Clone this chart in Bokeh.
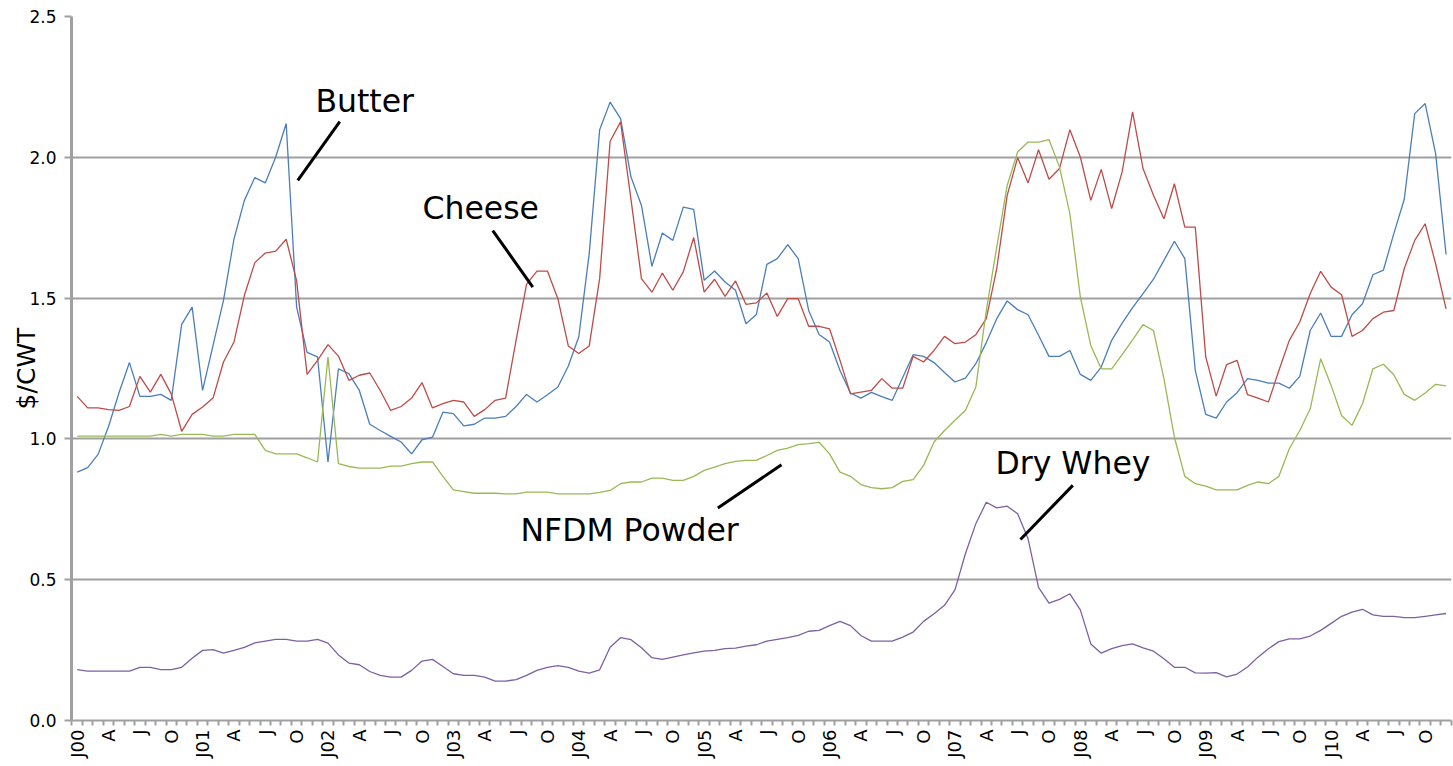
from math import pi
from bokeh.plotting import figure
from bokeh.models import Range1d, FixedTicker, Label, NumeralTickFormatter, ColumnDataSource
from bokeh.embed import file_html
from bokeh.resources import INLINE

# ---------------- data (monthly, Jan 2000 - Dec 2010) ----------------
tick_labels = ["J00", "A", "J", "O", "J01", "A", "J", "O", "J02", "A", "J", "O",
               "J03", "A", "J", "O", "J04", "A", "J", "O", "J05", "A", "J", "O",
               "J06", "A", "J", "O", "J07", "A", "J", "O", "J08", "A", "J", "O",
               "J09", "A", "J", "O", "J10", "A", "J", "O"]

butter = [0.882, 0.898, 0.945, 1.044, 1.164, 1.271, 1.151, 1.151, 1.158, 1.137, 1.407, 1.468,
          1.172, 1.332, 1.492, 1.709, 1.847, 1.928, 1.909, 2.001, 2.120, 1.468, 1.307, 1.291,
          0.918, 1.249, 1.232, 1.172, 1.052, 1.030, 1.009, 0.989, 0.947, 0.997, 1.006, 1.095,
          1.090, 1.046, 1.052, 1.074, 1.074, 1.080, 1.115, 1.158, 1.131, 1.157, 1.184, 1.259,
          1.362, 1.658, 2.098, 2.196, 2.137, 1.930, 1.829, 1.613, 1.731, 1.705, 1.823, 1.815,
          1.563, 1.596, 1.557, 1.528, 1.409, 1.442, 1.620, 1.640, 1.690, 1.640, 1.456, 1.371,
          1.344, 1.243, 1.163, 1.145, 1.165, 1.150, 1.137, 1.218, 1.299, 1.293, 1.271, 1.236,
          1.202, 1.216, 1.267, 1.342, 1.427, 1.490, 1.459, 1.441, 1.368, 1.293, 1.293, 1.314,
          1.229, 1.208, 1.255, 1.350, 1.411, 1.466, 1.516, 1.567, 1.634, 1.702, 1.640, 1.243,
          1.087, 1.074, 1.131, 1.164, 1.214, 1.208, 1.198, 1.198, 1.180, 1.222, 1.385, 1.447,
          1.364, 1.364, 1.441, 1.480, 1.583, 1.599, 1.729, 1.851, 2.155, 2.191, 2.013, 1.655]

cheese = [1.151, 1.110, 1.110, 1.104, 1.101, 1.115, 1.222, 1.166, 1.229, 1.160, 1.027, 1.087,
          1.113, 1.145, 1.273, 1.344, 1.510, 1.626, 1.660, 1.667, 1.709, 1.561, 1.229, 1.279,
          1.335, 1.294, 1.208, 1.226, 1.234, 1.172, 1.101, 1.115, 1.145, 1.200, 1.110, 1.125,
          1.137, 1.131, 1.080, 1.104, 1.137, 1.145, 1.350, 1.549, 1.596, 1.596, 1.498, 1.330,
          1.303, 1.330, 1.570, 2.057, 2.126, 1.850, 1.569, 1.521, 1.589, 1.528, 1.593, 1.715,
          1.521, 1.567, 1.506, 1.561, 1.478, 1.483, 1.518, 1.435, 1.498, 1.498, 1.400, 1.400,
          1.391, 1.279, 1.160, 1.166, 1.172, 1.214, 1.180, 1.180, 1.293, 1.273, 1.314, 1.364,
          1.338, 1.344, 1.370, 1.427, 1.605, 1.865, 1.999, 1.909, 2.027, 1.922, 1.960, 2.098,
          2.001, 1.847, 1.957, 1.818, 1.948, 2.161, 1.960, 1.865, 1.782, 1.906, 1.752, 1.752,
          1.291, 1.152, 1.264, 1.279, 1.157, 1.145, 1.131, 1.243, 1.350, 1.415, 1.516, 1.595,
          1.539, 1.512, 1.364, 1.385, 1.427, 1.450, 1.456, 1.605, 1.705, 1.764, 1.622, 1.462]

nfdm = [1.010, 1.010, 1.010, 1.010, 1.010, 1.010, 1.010, 1.010, 1.016, 1.010, 1.016, 1.016,
        1.016, 1.010, 1.010, 1.016, 1.016, 1.016, 0.959, 0.947, 0.947, 0.947, 0.933, 0.918,
        1.291, 0.912, 0.902, 0.896, 0.896, 0.896, 0.903, 0.903, 0.912, 0.918, 0.918, 0.867,
        0.819, 0.813, 0.807, 0.807, 0.807, 0.805, 0.805, 0.811, 0.811, 0.811, 0.805, 0.805,
        0.805, 0.805, 0.810, 0.817, 0.841, 0.847, 0.847, 0.861, 0.861, 0.853, 0.853, 0.867,
        0.888, 0.900, 0.912, 0.920, 0.924, 0.924, 0.941, 0.959, 0.967, 0.980, 0.983, 0.988,
        0.947, 0.882, 0.867, 0.838, 0.827, 0.823, 0.827, 0.849, 0.855, 0.906, 0.989, 1.030,
        1.066, 1.101, 1.184, 1.456, 1.681, 1.900, 2.019, 2.054, 2.054, 2.063, 1.966, 1.800,
        1.504, 1.332, 1.249, 1.249, 1.299, 1.352, 1.406, 1.385, 1.214, 1.006, 0.867, 0.841,
        0.832, 0.819, 0.819, 0.819, 0.835, 0.847, 0.841, 0.867, 0.965, 1.030, 1.107, 1.285,
        1.190, 1.083, 1.048, 1.125, 1.249, 1.265, 1.228, 1.158, 1.137, 1.163, 1.194, 1.188]

dry_whey = [0.181, 0.175, 0.175, 0.175, 0.175, 0.175, 0.189, 0.189, 0.181, 0.181, 0.189, 0.221,
            0.249, 0.252, 0.239, 0.249, 0.260, 0.276, 0.282, 0.288, 0.288, 0.282, 0.282, 0.288,
            0.275, 0.233, 0.204, 0.198, 0.174, 0.160, 0.154, 0.154, 0.178, 0.211, 0.217, 0.192,
            0.166, 0.160, 0.160, 0.154, 0.140, 0.140, 0.145, 0.160, 0.178, 0.189, 0.195, 0.189,
            0.175, 0.168, 0.180, 0.260, 0.294, 0.287, 0.258, 0.223, 0.217, 0.225, 0.233, 0.240,
            0.246, 0.249, 0.255, 0.257, 0.264, 0.269, 0.282, 0.288, 0.294, 0.302, 0.317, 0.320,
            0.337, 0.352, 0.337, 0.302, 0.282, 0.282, 0.282, 0.296, 0.314, 0.352, 0.379, 0.409,
            0.464, 0.592, 0.699, 0.775, 0.755, 0.761, 0.734, 0.645, 0.473, 0.417, 0.430, 0.450,
            0.393, 0.272, 0.239, 0.255, 0.266, 0.272, 0.258, 0.246, 0.219, 0.189, 0.189, 0.169,
            0.168, 0.170, 0.155, 0.165, 0.190, 0.225, 0.255, 0.280, 0.290, 0.290, 0.300, 0.320,
            0.345, 0.370, 0.385, 0.395, 0.375, 0.370, 0.370, 0.365, 0.365, 0.370, 0.375, 0.380]

month_index = list(range(len(butter)))

series = [("butter", "#4A7EBB"), ("cheese", "#BE4B48"), ("nfdm", "#98B954"), ("whey", "#7D60A0")]

# annotation callouts: text, text anchor (x, y), leader line (x0, y0, x1, y1)
callouts = [("Butter", 22.80, 2.199, 25.13, 2.127, 21.11, 1.918),
            ("Cheese", 33.04, 1.819, 39.77, 1.740, 43.60, 1.539),
            ("NFDM Powder", 42.42, 0.675, 67.40, 0.908, 61.31, 0.755),
            ("Dry Whey", 87.88, 0.913, 95.28, 0.835, 90.27, 0.643)]

GRID = "#a0a0a0"
FONT = "DejaVu Sans"

p = figure(width=1453, height=766, output_backend="svg", toolbar_location=None,
           x_range=Range1d(-0.545, 131.52), y_range=Range1d(0, 2.5),
           min_border_left=71, min_border_right=2, min_border_top=16, min_border_bottom=46)
p.outline_line_color = None
p.background_fill_color = "white"
p.border_fill_color = "white"

src = ColumnDataSource(dict(x=month_index, butter=butter, cheese=cheese, nfdm=nfdm, whey=dry_whey))
for key, col in series:
    p.line("x", key, source=src, line_color=col, line_width=1.3)

# x axis: labels every quarter, ticks at every month boundary
major = list(range(0, len(month_index), 3))
minor = [i - 0.5 for i in range(len(month_index) + 1)]
p.xaxis.ticker = FixedTicker(ticks=major, minor_ticks=minor)
p.xaxis.major_label_overrides = {t: lab for t, lab in zip(major, tick_labels)}
p.xaxis.major_label_orientation = pi / 2
p.xaxis.major_tick_line_color = None
p.xaxis.major_tick_out = 6
p.xaxis.major_tick_in = 0
p.xaxis.minor_tick_line_color = GRID
p.xaxis.minor_tick_line_width = 2
p.xaxis.minor_tick_out = 5
p.xaxis.minor_tick_in = 0
p.xaxis.major_label_standoff = 3
p.xaxis.major_label_text_font = FONT
p.xaxis.major_label_text_font_size = "18px"
p.xaxis.major_label_text_color = "black"
p.xaxis.axis_line_color = GRID
p.xaxis.axis_line_width = 2

# y axis
p.yaxis.ticker = FixedTicker(ticks=[0, 0.5, 1.0, 1.5, 2.0, 2.5])
p.yaxis.formatter = NumeralTickFormatter(format="0.0")
p.yaxis.major_tick_line_color = GRID
p.yaxis.major_tick_line_width = 2
p.yaxis.major_tick_out = 7
p.yaxis.major_tick_in = 0
p.yaxis.minor_tick_line_color = None
p.yaxis.major_label_standoff = 8
p.yaxis.major_label_text_font = FONT
p.yaxis.major_label_text_font_size = "17px"
p.yaxis.major_label_text_color = "black"
p.yaxis.axis_line_color = GRID
p.yaxis.axis_line_width = 3
p.yaxis.axis_label = "$/CWT"
p.yaxis.axis_label_text_font = FONT
p.yaxis.axis_label_text_font_size = "25px"
p.yaxis.axis_label_text_font_style = "normal"
p.yaxis.axis_label_text_color = "black"
p.yaxis.axis_label_standoff = -15

p.xgrid.grid_line_color = None
p.ygrid.ticker = FixedTicker(ticks=[0.5, 1.0, 1.5, 2.0, 2.5])
p.ygrid.grid_line_color = GRID
p.ygrid.grid_line_width = 2

# callouts
for text, tx, ty, x0, y0, x1, y1 in callouts:
    p.add_layout(Label(x=tx, y=ty, text=text, text_align="left", text_baseline="alphabetic",
                       text_font=FONT, text_font_size="31.5px", text_color="black"))
p.segment(x0=[c[3] for c in callouts], y0=[c[4] for c in callouts],
          x1=[c[5] for c in callouts], y1=[c[6] for c in callouts],
          line_color="black", line_width=3)

open("out.html", "w").write(file_html(p, INLINE))
